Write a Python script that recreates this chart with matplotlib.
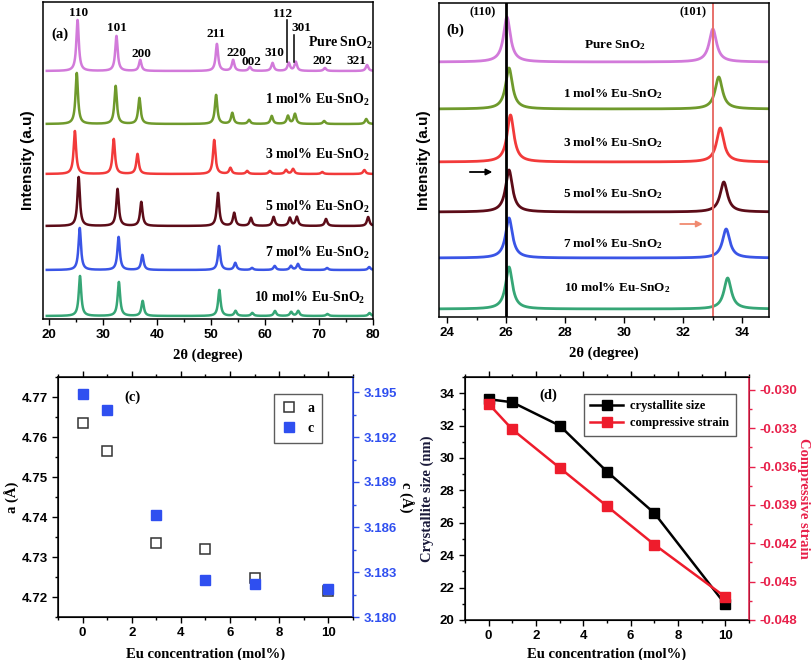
import numpy as np
import matplotlib
matplotlib.use("Agg")
import matplotlib.pyplot as plt
from matplotlib.ticker import MultipleLocator, FormatStrFormatter

plt.rcParams['font.family'] = ['Liberation Sans', 'DejaVu Sans']
plt.rcParams['mathtext.fontset'] = 'custom'
plt.rcParams['mathtext.rm'] = 'Liberation Serif:bold'
plt.rcParams['mathtext.it'] = 'Liberation Serif:bold'
plt.rcParams['mathtext.bf'] = 'Liberation Serif:bold'

# ---------------- data ----------------
samples = ['Pure SnO$_2$', '1 mol% Eu-SnO$_2$', '3 mol% Eu-SnO$_2$',
           '5 mol% Eu-SnO$_2$', '7 mol% Eu-SnO$_2$', '10 mol% Eu-SnO$_2$']
xrd_colors = ['#d27ada', '#6f9a2c', '#f23a3a', '#5c0c18', '#3a55e6', '#36a676']

hkl = ['110', '101', '200', '211', '220', '002', '310', '112', '301', '202', '321']
peak_pos_a = [25.3, 32.5, 36.9, 51.1, 54.1, 57.2, 61.4, 64.4, 65.7, 71.1, 78.9]
shift_a = [0.0, -0.15, -0.5, 0.2, 0.4, 0.45]
heights_a = [
    [51, 35, 11, 27, 11, 4, 8, 8, 9, 3, 6],
    [51, 38, 26, 29, 11, 4, 8, 8, 10, 3, 5],
    [43, 35, 20, 34, 6, 3, 3, 4, 5, 2, 4],
    [49, 37, 24, 33, 13, 8, 9, 8, 9, 7, 9],
    [42, 33, 15, 24, 7, 2, 4, 4, 6, 2, 3],
    [40, 34, 15, 26, 5, 3, 5, 4, 5, 2, 3],
]
offset_a = [248, 195, 145, 93, 49, 3]

pos110_b = [26.03, 26.10, 26.15, 26.10, 26.10, 26.10]
pos101_b = [33.00, 33.20, 33.25, 33.37, 33.45, 33.50]
h110_b = [45, 41, 47, 42, 40, 42]
h101_b = [33, 32, 34, 30, 29, 31]
offset_b = [255, 208, 155, 105, 59, 8]

conc = [0, 1, 3, 5, 7, 10]
a_vals = [4.7635, 4.7566, 4.7334, 4.7319, 4.7247, 4.7215]
c_vals = [3.1949, 3.1938, 3.1868, 3.1825, 3.1822, 3.1819]
size_vals = [33.63, 33.44, 32.0, 29.16, 26.6, 20.96]
strain_vals = [-0.0311, -0.0331, -0.0361, -0.0391, -0.0421, -0.0462]

# ---------------- helpers ----------------
W, H = 812, 660
fig = plt.figure(figsize=(W / 100, H / 100), dpi=100)


def rect(l, t, r, b):
    return [l / W, 1 - b / H, (r - l) / W, (b - t) / H]


def lorentz(x, x0, h, fwhm):
    g = fwhm / 2.0
    return h * g * g / ((x - x0) ** 2 + g * g)


SERIF = ['Liberation Serif', 'DejaVu Serif']


def style_ticks(ax):
    for lab in ax.get_xticklabels() + ax.get_yticklabels():
        lab.set_fontweight('bold')
        lab.set_fontsize(9.5)


# ---------------- panel (a) ----------------
ax_a = fig.add_axes(rect(43, 2, 373, 319))
xa = np.linspace(19.6, 79.8, 4000)
for i in range(6):
    y = np.zeros_like(xa)
    for p, h in zip(peak_pos_a, heights_a[i]):
        y += lorentz(xa, p + shift_a[i], h, 0.55)
    ax_a.plot(xa, y + offset_a[i], color=xrd_colors[i], lw=1.8)
ax_a.set_xlim(18.9, 80)
ax_a.set_ylim(0, 317)
ax_a.set_yticks([])
ax_a.xaxis.set_major_locator(MultipleLocator(10))
ax_a.xaxis.set_minor_locator(MultipleLocator(5))
ax_a.tick_params(axis='x', which='major', length=4, width=1, labelsize=9.5)
ax_a.tick_params(axis='x', which='minor', length=2, width=1)
for s in ax_a.spines.values():
    s.set_linewidth(1.1)
style_ticks(ax_a)
ax_a.set_xlabel('2θ (degree)', family=SERIF, weight='bold', fontsize=10.5, labelpad=5)
ax_a.set_ylabel('Intensity (a.u)', family=['Liberation Sans'], weight='bold', fontsize=11, labelpad=6)
ax_a.text(22.0, 285, '(a)', family=SERIF, weight='bold', fontsize=10.5, ha='center', va='center')

lab_y_a = [276, 219, 164, 112, 66, 21]
lab_x_a = [79.9, 79.4, 79.4, 79.4, 79.4, 78.5]
for i, s in enumerate(samples):
    ax_a.text(lab_x_a[i], lab_y_a[i], s, family=SERIF, weight='bold', fontsize=10,
              ha='right', va='center')

hkl_xy = [(25.4, 306), (32.6, 291), (37.2, 265), (50.9, 285), (54.8, 266), (57.4, 257),
          (61.7, 266), (63.3, 305), (66.7, 291), (70.7, 258), (76.9, 258)]
for lab, (hx, hy) in zip(hkl, hkl_xy):
    ax_a.text(hx, hy, lab, family=SERIF, weight='bold', fontsize=9.5, ha='center', va='center')
ax_a.plot([64.1, 64.1], [299, 257], color='black', lw=1.1)
ax_a.plot([65.4, 65.4], [284, 257], color='black', lw=1.1)

# ---------------- panel (b) ----------------
ax_b = fig.add_axes(rect(439, 3, 769, 317))
xb = np.linspace(23.76, 34.85, 3000)
for i in range(6):
    y = lorentz(xb, pos110_b[i], h110_b[i], 0.28) + lorentz(xb, pos101_b[i], h101_b[i], 0.3)
    ax_b.plot(xb, y + offset_b[i], color=xrd_colors[i], lw=2.0)
ax_b.axvline(26.0, color='black', lw=2.0)
ax_b.axvline(33.02, color='#e8706a', lw=1.4)
ax_b.set_xlim(23.73, 34.9)
ax_b.set_ylim(0, 314)
ax_b.set_yticks([])
ax_b.xaxis.set_major_locator(MultipleLocator(2))
ax_b.xaxis.set_minor_locator(MultipleLocator(1))
ax_b.tick_params(axis='x', which='major', length=4, width=1, labelsize=9.5)
ax_b.tick_params(axis='x', which='minor', length=2, width=1)
for s in ax_b.spines.values():
    s.set_linewidth(1.1)
style_ticks(ax_b)
ax_b.set_xlabel('2θ (degree)', family=SERIF, weight='bold', fontsize=10.5, labelpad=5)
ax_b.set_ylabel('Intensity (a.u)', family=['Liberation Sans'], weight='bold', fontsize=11, labelpad=6)
ax_b.text(24.27, 287, '(b)', family=SERIF, weight='bold', fontsize=10.5, ha='center', va='center')
ax_b.text(25.22, 305, '(110)', family=SERIF, weight='bold', fontsize=9, ha='center', va='center')
ax_b.text(32.34, 305, '(101)', family=SERIF, weight='bold', fontsize=9, ha='center', va='center')
lab_y_b = [272, 223, 174, 123, 73, 29]
lab_x_b = [29.7, 29.63, 29.63, 29.63, 29.63, 29.76]
for i, s in enumerate(samples):
    ax_b.text(lab_x_b[i], lab_y_b[i], s, family=SERIF, weight='bold', fontsize=9.5,
              ha='center', va='center')
ax_b.annotate('', xy=(25.63, 145), xytext=(24.68, 145),
              arrowprops=dict(arrowstyle='-|>', color='black', lw=1.3, mutation_scale=9))
ax_b.annotate('', xy=(32.75, 93), xytext=(31.8, 93),
              arrowprops=dict(arrowstyle='-|>', color='#f08a70', lw=1.3, mutation_scale=9))

# ---------------- panel (c) ----------------
blue = '#2f4ff0'
ax_c = fig.add_axes(rect(58, 377, 353, 617))
ax_c2 = ax_c.twinx()
ha, = ax_c.plot(conc, a_vals, 's', ms=7, mfc='white', mec='#333333', mew=1.1, ls='none', label='a')
hc, = ax_c2.plot(conc, c_vals, 's', ms=7, mfc=blue, mec=blue, ls='none', label='c')
ax_c.set_xlim(-1, 11)
ax_c.set_ylim(4.715, 4.775)
ax_c2.set_ylim(3.180, 3.196)
ax_c.xaxis.set_major_locator(MultipleLocator(2))
ax_c.xaxis.set_minor_locator(MultipleLocator(1))
ax_c.yaxis.set_major_locator(MultipleLocator(0.01))
ax_c.yaxis.set_minor_locator(MultipleLocator(0.005))
ax_c.yaxis.set_major_formatter(FormatStrFormatter('%.2f'))
ax_c2.yaxis.set_major_locator(MultipleLocator(0.003))
ax_c2.yaxis.set_minor_locator(MultipleLocator(0.0015))
ax_c2.yaxis.set_major_formatter(FormatStrFormatter('%.3f'))
ax_c.tick_params(which='both', direction='out', width=1)
ax_c.tick_params(which='major', length=4, labelsize=9.5)
ax_c.tick_params(which='minor', length=2)
ax_c.tick_params(axis='x', which='both', top=True)
ax_c2.tick_params(which='major', length=4, width=1, colors=blue, labelsize=9.5)
ax_c2.tick_params(which='minor', length=2, width=1, colors=blue)
ax_c2.spines['right'].set_color(blue)
for s in ['left', 'top', 'bottom']:
    ax_c.spines[s].set_linewidth(1.1)
ax_c2.spines['right'].set_linewidth(1.1)
style_ticks(ax_c)
style_ticks(ax_c2)
ax_c.set_xlabel('Eu concentration (mol%)', family=SERIF, weight='bold', fontsize=10.5, labelpad=6)
ax_c.set_ylabel('a (Å)', family=SERIF, weight='bold', fontsize=10.5, labelpad=1)
ax_c2.set_ylabel('c (Å)', family=SERIF, weight='bold', fontsize=10.5, rotation=270, labelpad=12)
ax_c.text(0.254, 0.917, '(c)', transform=ax_c.transAxes, family=SERIF, weight='bold',
          fontsize=10.5, ha='center', va='center')
leg_c = ax_c2.legend([ha, hc], ['a', 'c'], loc='upper right', bbox_to_anchor=(0.92, 0.96),
                     frameon=True, fancybox=False, edgecolor='#333333', handlelength=1.0,
                     handletextpad=0.8, borderpad=0.6, labelspacing=0.5,
                     prop=dict(family=SERIF, weight='bold', size=10))
leg_c.get_frame().set_linewidth(1.0)

# ---------------- panel (d) ----------------
red = '#ee1c2c'
pink = '#e8204a'
ax_d = fig.add_axes(rect(465, 377, 749, 620))
ax_d2 = ax_d.twinx()
hs, = ax_d.plot(conc, size_vals, '-s', color='black', lw=1.8, ms=7.5, label='crystallite size')
ht, = ax_d2.plot(conc, strain_vals, '-s', color=red, lw=1.8, ms=7.5, label='compressive strain')
ax_d.set_xlim(-1, 11)
ax_d.set_ylim(20, 35)
ax_d2.set_ylim(-0.048, -0.029)
ax_d.xaxis.set_major_locator(MultipleLocator(2))
ax_d.xaxis.set_minor_locator(MultipleLocator(1))
ax_d.yaxis.set_major_locator(MultipleLocator(2))
ax_d.yaxis.set_minor_locator(MultipleLocator(1))
ax_d2.yaxis.set_major_locator(MultipleLocator(0.003))
ax_d2.yaxis.set_minor_locator(MultipleLocator(0.0015))
ax_d2.yaxis.set_major_formatter(FormatStrFormatter('%.3f'))
ax_d.tick_params(which='both', direction='out', width=1)
ax_d.tick_params(which='major', length=4, labelsize=9.5)
ax_d.tick_params(which='minor', length=2)
ax_d.tick_params(axis='x', which='both', top=True)
ax_d2.tick_params(which='major', length=4, width=1, colors=pink, labelsize=9.5)
ax_d2.tick_params(which='minor', length=2, width=1, colors=pink)
ax_d2.spines['right'].set_color(pink)
for s in ['left', 'top', 'bottom']:
    ax_d.spines[s].set_linewidth(1.1)
ax_d2.spines['right'].set_linewidth(1.1)
style_ticks(ax_d)
style_ticks(ax_d2)
ax_d.set_xlabel('Eu concentration (mol%)', family=SERIF, weight='bold', fontsize=10.5, labelpad=4)
ax_d.set_ylabel('Crystallite size (nm)', family=SERIF, weight='bold', fontsize=10.5,
                color='#1a1a3a', labelpad=4)
ax_d2.set_ylabel('Compressive strain', family=SERIF, weight='bold', fontsize=10.5,
                 color=pink, rotation=270, labelpad=9)
ax_d.text(0.292, 0.926, '(d)', transform=ax_d.transAxes, family=SERIF, weight='bold',
          fontsize=10.5, ha='center', va='center')
leg_d = ax_d2.legend([hs, ht], ['crystallite size', 'compressive strain'], loc='upper right',
                     bbox_to_anchor=(0.975, 0.955), frameon=True, fancybox=False,
                     edgecolor='#333333', handlelength=2.6, handletextpad=0.6,
                     borderpad=0.5, labelspacing=0.4,
                     prop=dict(family=SERIF, weight='bold', size=9))
leg_d.get_frame().set_linewidth(1.0)

fig.savefig('out.png', dpi=100)
